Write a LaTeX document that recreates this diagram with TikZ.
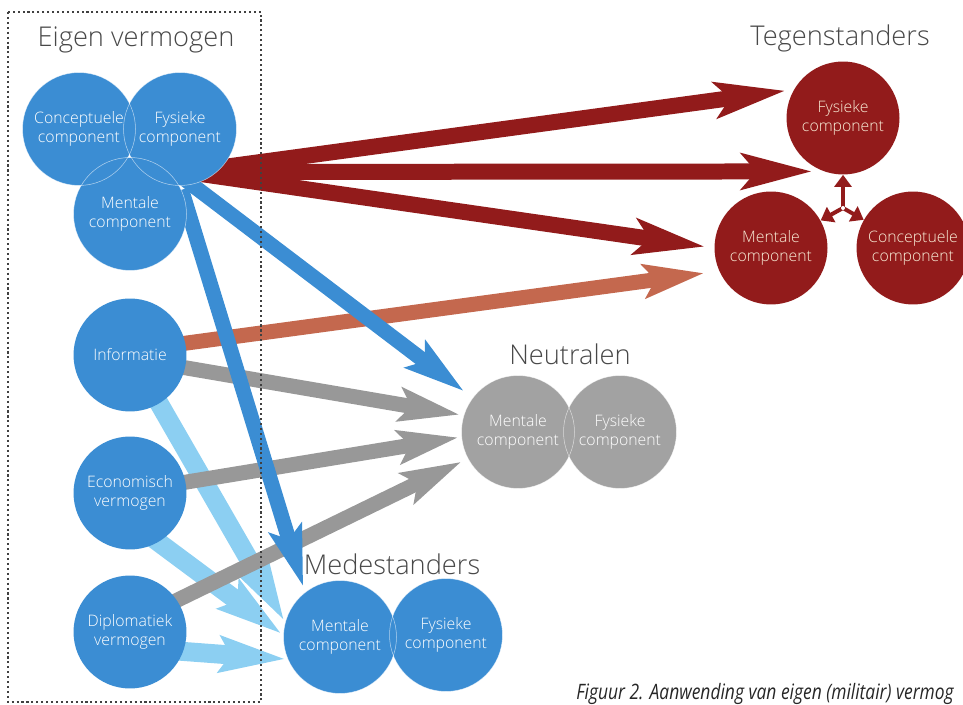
\documentclass[tikz,border=0pt]{standalone}
\usepackage{fontspec}
\setmainfont{Open Sans}
\IfFontExistsTF{Open Sans Light}
  {\newfontfamily\dun{Open Sans Light}}
  {\newfontfamily\dun{Open Sans}}
\newfontfamily\bijschrift[FakeStretch=0.82]{Open Sans}
\usetikzlibrary{arrows.meta,calc}
\pgfdeclarelayer{achter}
\pgfsetlayers{achter,main}

\definecolor{eigenblauw}{RGB}{59,141,211}
\definecolor{lichtblauw}{RGB}{140,207,242}
\definecolor{tegenrood}{RGB}{146,27,27}
\definecolor{roestbruin}{RGB}{196,104,78}
\definecolor{neutraalgrijs}{RGB}{162,162,162}
\definecolor{pijlgrijs}{RGB}{152,152,152}
\definecolor{titelgrijs}{RGB}{72,72,72}
\definecolor{creme}{RGB}{248,236,214}

\begin{document}
\begin{tikzpicture}[x=0.02cm,y=-0.02cm,
  bol/.style={circle,minimum size=2.26cm,inner sep=0pt,align=center,
    font=\dun\fontsize{9}{11}\selectfont,text=white},
  eigen/.style={bol,fill=eigenblauw},
  tegen/.style={bol,fill=tegenrood,text=creme},
  neutraal/.style={bol,fill=neutraalgrijs},
  rand/.style={circle,minimum size=2.26cm,inner sep=0pt,draw=white,line width=0.3pt,draw opacity=0.6},
  titel/.style={font=\dun\fontsize{15.5}{18}\selectfont,text=titelgrijs},
  pijl/.style={line width=0.3cm,shorten <=-0.3cm,
    -{Stealth[length=1.2cm,width=0.66cm,inset=0.22cm]}},
  rood/.style={pijl,draw=tegenrood,line width=0.32cm,shorten <=0pt,
    -{Stealth[length=1.4cm,width=0.7cm,inset=0.28cm]}},
  roest/.style={pijl,draw=roestbruin},
  blauw/.style={pijl,draw=eigenblauw},
  grijs/.style={pijl,draw=pijlgrijs},
  licht/.style={pijl,draw=lichtblauw,line width=0.38cm,
    -{Stealth[length=1.3cm,width=0.7cm,inset=0.2cm]}},
  kleinpijl/.style={draw=tegenrood,line width=0.08cm,-{Triangle[length=0.24cm,width=0.34cm]}},
  kader/.style={draw=black!75,line width=0.9pt,dash pattern=on 1.2pt off 1.6pt}]

  % Venster
  \useasboundingbox (0,0) rectangle (963,705);
  \clip (0,0) rectangle (963,705);

  % Kader rond eigen vermogen
  \draw[kader] (8,12) rectangle (261,702);

  % Titels
  \node[titel] (titelEigen) at (136,40) {Eigen vermogen};
  \node[titel] (titelTegen) at (840,38) {Tegenstanders};
  \node[titel] (titelNeutraal) at (570,354) {Neutralen};
  \node[titel] (titelMede) at (392,564) {Medestanders};

  % Eigen vermogen
  \node[eigen] (conceptE) at (79,129) {Conceptuele\\component};
  \node[eigen] (fysiekE) at (180,129) {Fysieke\\component};
  \node[eigen] (mentaalE) at (130,214) {Mentale\\component};
  \node[eigen] (info) at (130,355) {Informatie};
  \node[eigen] (econ) at (130,493) {Economisch\\vermogen};
  \node[eigen] (diplo) at (130,632) {Diplomatiek\\vermogen};

  % Medestanders
  \node[eigen] (mentaalM) at (340,637) {Mentale\\component};
  \node[eigen] (fysiekM) at (446,635) {Fysieke\\component};

  % Neutralen
  \node[neutraal] (mentaalN) at (518,432) {Mentale\\component};
  \node[neutraal] (fysiekN) at (620,432) {Fysieke\\component};

  % Tegenstanders
  \node[tegen] (fysiekT) at (843,118) {Fysieke\\component};
  \node[tegen] (mentaalT) at (771,248) {Mentale\\component};
  \node[tegen] (conceptT) at (913,248) {Conceptuele\\component};

  % Dunne randen waar de cirkels overlappen
  \foreach \n in {conceptE,fysiekE,mentaalE,mentaalM,fysiekM,mentaalN,fysiekN}
    \node[rand] at (\n) {};

  % Wisselwerking tussen de componenten van de tegenstander
  \coordinate (kern) at (843,208);
  \foreach \doel in {fysiekT,mentaalT,conceptT}
    \draw[kleinpijl] (kern) -- (\doel);
  \fill[white] (kern) circle (2);

  % Pijlen achter de cirkels
  \begin{pgfonlayer}{achter}
    \draw[licht,shorten >=0.04cm] (info.-59) -- (mentaalM.165);
    \draw[licht,shorten >=0.04cm] (econ.-60) -- (mentaalM.178);
    \draw[licht,shorten >=0.04cm] (diplo.-20) -- (mentaalM.203);

    \draw[grijs,shorten >=0.08cm] (info.-13) -- (mentaalN.163);
    \draw[grijs,shorten >=0.06cm] (econ.11) -- (mentaalN.185);
    \draw[grijs,shorten >=0.14cm] (diplo.34) -- (mentaalN.208);

    \draw[roest,shorten >=0.3cm] (info.12) -- (mentaalT.204);

    \draw[blauw,shorten >=0.22cm] (fysiekE.282) -- (mentaalN.143);
    \draw[blauw,shorten >=0.12cm] (mentaalE.10) -- (mentaalM.128);

    \coordinate (bron) at (187,172);
    \draw[rood,shorten >=0.16cm] (bron) -- (fysiekT.150);
    \draw[rood,shorten >=0.22cm] (bron) -- (fysiekT.250);
    \draw[rood,shorten >=0.18cm] (bron) -- (mentaalT.west);
  \end{pgfonlayer}

  % Onderschrift
  \node[anchor=base west,inner sep=0pt,text=black!85,
    font=\bijschrift\fontsize{12.1}{14}\selectfont\itshape] (onderschrift)
    at (576,699) {Figuur 2. Aanwending van eigen (militair) vermog};

\end{tikzpicture}
\end{document}
